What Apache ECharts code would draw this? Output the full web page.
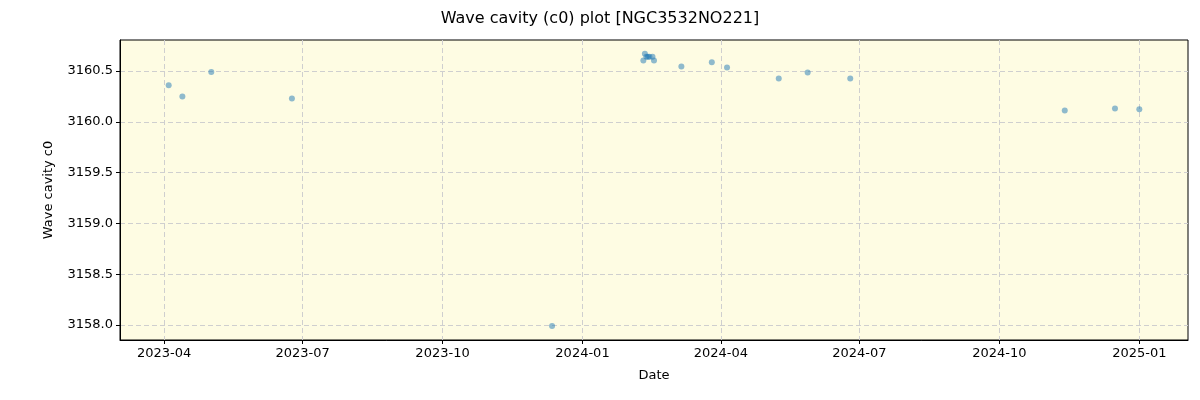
<!DOCTYPE html>
<html>
<head>
<meta charset="utf-8">
<script src="https://cdn.jsdelivr.net/npm/echarts@6/dist/echarts.min.js"></script>
<style>html,body{margin:0;padding:0;background:#fff}#c{width:1200px;height:400px}</style>
</head>
<body>
<div id="c"></div>
<script>
const dates = ["2023-04-04","2023-04-13","2023-05-02","2023-06-24","2023-12-12",
  "2024-02-10","2024-02-11","2024-02-12","2024-02-13","2024-02-14","2024-02-16","2024-02-17",
  "2024-03-06","2024-03-26","2024-04-05","2024-05-09","2024-05-28","2024-06-25",
  "2024-11-13","2024-12-16","2025-01-01"];
const values = [3160.36,3160.25,3160.49,3160.23,3157.99,
  3160.605,3160.67,3160.64,3160.64,3160.64,3160.64,3160.605,
  3160.546,3160.586,3160.536,3160.428,3160.487,3160.428,
  3160.113,3160.132,3160.125];
const xTicks = ["2023-04-01","2023-07-01","2023-10-01","2024-01-01","2024-04-01","2024-07-01","2024-10-01","2025-01-01"];
const yTicks = [3158.0,3158.5,3159.0,3159.5,3160.0,3160.5];
const xRange = ["2023-03-03","2025-02-02"];
const yRange = [3157.852,3160.806];

const ts = s => new Date(s + "T00:00:00Z").getTime();
const font = "DejaVu Sans";
const chart = echarts.init(document.getElementById('c'), null, {renderer:'canvas'});
chart.setOption({
  animation:false,
  title:{text:"Wave cavity (c0) plot [NGC3532NO221]", left:'center', top:6,
    textStyle:{fontFamily:font, fontSize:16, fontWeight:'normal', color:'#000'}},
  grid:{left:120, right:12, top:40, bottom:60, show:true, backgroundColor:'#fefce3', borderColor:'#000', borderWidth:1},
  xAxis:{type:'value', min:ts(xRange[0]), max:ts(xRange[1]),
    name:'Date', nameLocation:'middle', nameGap:29,
    nameTextStyle:{fontFamily:font, fontSize:13, color:'#000'},
    axisLine:{show:true, lineStyle:{color:'#000'}},
    axisTick:{show:true, length:4, lineStyle:{color:'#000'}, customValues:xTicks.map(ts)},
    axisLabel:{fontFamily:font, fontSize:13, color:'#000', margin:7, customValues:xTicks.map(ts),
      formatter:v=>{const d=new Date(v);return d.getUTCFullYear()+'-'+String(d.getUTCMonth()+1).padStart(2,'0');}},
    splitLine:{show:true, lineStyle:{color:'#cfcfcf', type:[5,3], width:1}}
  },
  yAxis:{type:'value', min:yRange[0], max:yRange[1],
    name:'Wave cavity c0', nameLocation:'middle', nameGap:65,
    nameTextStyle:{fontFamily:font, fontSize:13, color:'#000'},
    axisLine:{show:true, lineStyle:{color:'#000'}},
    axisTick:{show:true, length:4, lineStyle:{color:'#000'}, customValues:yTicks},
    axisLabel:{fontFamily:font, fontSize:13, color:'#000', margin:7, customValues:yTicks, formatter:v=>v.toFixed(1)},
    splitLine:{show:true, lineStyle:{color:'#cfcfcf', type:[5,3], width:1}}
  },
  series:[{type:'scatter', symbolSize:6,
    itemStyle:{color:'rgba(31,119,180,0.62)'},
    data:dates.map((d,i)=>[ts(d), values[i]])}]
});
</script>
</body>
</html>
